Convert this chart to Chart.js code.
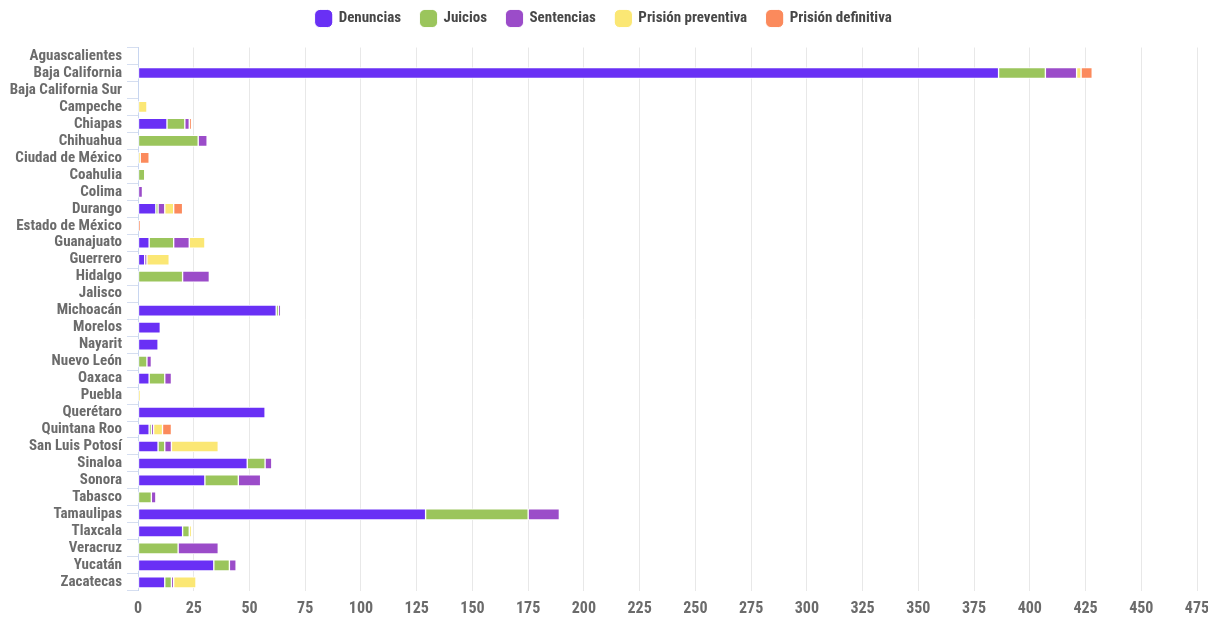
<!DOCTYPE html>
<html>
<head>
<meta charset="utf-8">
<script src="https://cdn.jsdelivr.net/npm/chart.js@4.4.0/dist/chart.umd.min.js"></script>
<style>
  html, body { margin: 0; padding: 0; background: #fff; }
  #wrap { width: 1208px; height: 623px; }
</style>
</head>
<body>
<div id="wrap"><canvas id="chart"></canvas></div>
<script>
const estados = ['Aguascalientes', 'Baja California', 'Baja California Sur', 'Campeche', 'Chiapas',
  'Chihuahua', 'Ciudad de México', 'Coahulia', 'Colima', 'Durango', 'Estado de México',
  'Guanajuato', 'Guerrero', 'Hidalgo', 'Jalisco', 'Michoacán', 'Morelos', 'Nayarit',
  'Nuevo León', 'Oaxaca', 'Puebla', 'Querétaro', 'Quintana Roo', 'San Luis Potosí',
  'Sinaloa', 'Sonora', 'Tabasco', 'Tamaulipas', 'Tlaxcala', 'Veracruz', 'Yucatán', 'Zacatecas'];

const denuncias   = [0, 386, 0, 0, 13, 0, 0, 0, 0, 8, 0, 5, 3, 0, 0, 62, 10, 9, 0, 5, 0, 57, 5, 9, 49, 30, 0, 129, 20, 0, 34, 12];
const juicios     = [0, 21, 0, 0, 8, 27, 0, 3, 0, 1, 0, 11, 0, 20, 0, 1, 0, 0, 4, 7, 0, 0, 1, 3, 8, 15, 6, 46, 3, 18, 7, 3];
const sentencias  = [0, 14, 0, 0, 2, 4, 0, 0, 2, 3, 0, 7, 1, 12, 0, 1, 0, 0, 2, 3, 0, 0, 1, 3, 3, 10, 2, 14, 0, 18, 3, 1];
const preventiva  = [0, 2, 0, 4, 0, 0, 1, 0, 0, 4, 0, 7, 10, 0, 0, 0, 0, 0, 0, 0, 1, 0, 4, 21, 0, 0, 0, 0, 1, 0, 0, 10];
const definitiva  = [0, 5, 0, 0, 1, 0, 4, 0, 0, 4, 1, 0, 0, 0, 0, 0, 0, 0, 0, 0, 0, 0, 4, 0, 0, 0, 0, 0, 0, 0, 0, 0];

const FONT = "'Roboto Condensed', 'Open Sans', sans-serif";
const GREY = '#6b6b6b';

function serie(label, data, color) {
  return {
    label: label,
    data: data,
    backgroundColor: color,
    borderColor: '#ffffff',
    borderWidth: 1,
    borderSkipped: false,
    barThickness: 11,
  };
}

// make the legend box taller so the plot starts where the reference does
const legendHeight = {
  id: 'legendHeight',
  beforeInit(chart) {
    const fit = chart.legend.fit;
    chart.legend.fit = function () {
      fit.bind(chart.legend)();
      this.height = 56.5;
    };
  }
};

new Chart(document.getElementById('chart'), {
  type: 'bar',
  data: {
    labels: estados,
    datasets: [
      serie('Denuncias', denuncias, '#6930f5'),
      serie('Juicios', juicios, '#9bc55c'),
      serie('Sentencias', sentencias, '#9b4cc9'),
      serie('Prisión preventiva', preventiva, '#fbe774'),
      serie('Prisión definitiva', definitiva, '#fb8a5c'),
    ]
  },
  plugins: [legendHeight],
  options: {
    indexAxis: 'y',
    responsive: true,
    maintainAspectRatio: false,
    animation: false,
    layout: { padding: { left: 0, right: 0, top: -9, bottom: -5 } },
    plugins: {
      legend: {
        position: 'top',
        labels: {
          font: { family: FONT, size: 15, weight: 'bold' },
          color: '#474747',
          usePointStyle: true,
          pointStyle: 'rectRounded',
          boxWidth: 16,
          boxHeight: 16,
          padding: 20,
        }
      },
      tooltip: { enabled: false },
    },
    scales: {
      x: {
        stacked: true,
        min: 0,
        max: 475,
        afterFit(scale) { scale.paddingRight = 11; },
        ticks: {
          stepSize: 25,
          font: { family: FONT, size: 16, weight: 'bold' },
          color: GREY,
          padding: 9,
        },
        grid: { color: '#e8e8e8', drawTicks: false },
        border: { display: false },
      },
      y: {
        stacked: true,
        afterFit(scale) { scale.width = 138; },
        ticks: {
          font: { family: FONT, size: 15, weight: 'bold' },
          color: GREY,
          padding: 5,
          autoSkip: false,
        },
        grid: { drawOnChartArea: false, color: '#d5def0', tickLength: 11 },
        border: { display: true, color: '#c8d6f0' },
      }
    }
  }
});
</script>
</body>
</html>
